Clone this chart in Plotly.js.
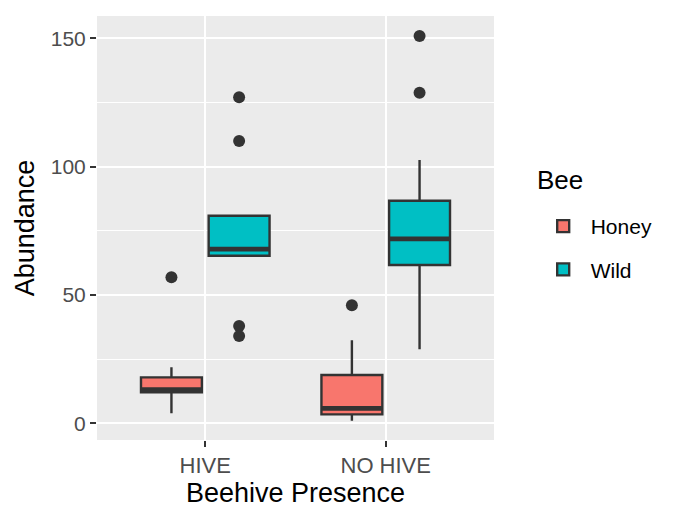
<!DOCTYPE html>
<html>
<head>
<meta charset="utf-8">
<script src="https://cdn.plot.ly/plotly-3.0.1.min.js"></script>
<style>html,body{margin:0;padding:0;background:#fff;}#chart{width:685px;height:521px;}</style>
</head>
<body>
<div id="chart"></div>
<script>
// ---- data ----
const categories = ["HIVE", "NO HIVE"];

const honeyQ1     = [12.1, 3.5];
const honeyMedian = [13.1, 5.8];
const honeyQ3     = [17.9, 18.8];
const honeyLower  = [3.9, 1.0];
const honeyUpper  = [21.8, 32.4];

const wildQ1      = [65.3, 61.7];
const wildMedian  = [67.9, 71.9];
const wildQ3      = [80.9, 86.7];
const wildLower   = [65.3, 28.9];
const wildUpper   = [80.9, 102.6];

const honeyOutX = ["HIVE", "NO HIVE"];
const honeyOutY = [56.9, 46.0];
const wildOutX  = ["HIVE", "HIVE", "HIVE", "HIVE", "NO HIVE", "NO HIVE"];
const wildOutY  = [127.0, 110.0, 37.9, 34.0, 150.9, 128.8];

const yTicks = [0, 50, 100, 150];
const legendTitle = "Bee";

// ---- styling ----
const FONT = "Liberation Sans, Arial, Helvetica, sans-serif";
const LINE = "#333333";
const HONEY = "#F8766D";
const WILD = "#00BFC4";

function boxTrace(name, q1, med, q3, lo, hi, color, legend) {
  return {
    type: "box", name: name, x: categories,
    q1: q1, median: med, q3: q3, lowerfence: lo, upperfence: hi,
    fillcolor: color, line: {color: LINE, width: 2.4}, whiskerwidth: 0,
    offsetgroup: name, alignmentgroup: "a", legendgroup: name,
    showlegend: legend, boxpoints: false, hoverinfo: "skip"
  };
}
function medianTrace(name, med) {
  return {
    type: "box", name: name + " median", x: categories,
    q1: med, median: med, q3: med, lowerfence: med, upperfence: med,
    fillcolor: "rgba(0,0,0,0)", line: {color: LINE, width: 4.8}, whiskerwidth: 0,
    offsetgroup: name, alignmentgroup: "a", legendgroup: name,
    showlegend: false, boxpoints: false, hoverinfo: "skip"
  };
}
function outTrace(name, xs, ys) {
  return {
    type: "scatter", mode: "markers", x: xs, y: ys,
    marker: {color: LINE, size: 12},
    offsetgroup: name, alignmentgroup: "a", legendgroup: name,
    showlegend: false, hoverinfo: "skip"
  };
}

const data = [
  boxTrace("Honey", honeyQ1, honeyMedian, honeyQ3, honeyLower, honeyUpper, HONEY, true),
  boxTrace("Wild", wildQ1, wildMedian, wildQ3, wildLower, wildUpper, WILD, true),
  medianTrace("Honey", honeyMedian),
  medianTrace("Wild", wildMedian),
  outTrace("Honey", honeyOutX, honeyOutY),
  outTrace("Wild", wildOutX, wildOutY)
];

const layout = {
  width: 685, height: 521,
  margin: {l: 97, r: 191, t: 16, b: 81},
  paper_bgcolor: "#FFFFFF",
  plot_bgcolor: "#EBEBEB",
  boxmode: "group", boxgap: 0.25, boxgroupgap: 0.1,
  scattermode: "group", scattergap: 0.25,
  font: {family: FONT, color: "#000000"},
  xaxis: {
    type: "category", categoryorder: "array", categoryarray: categories,
    range: [-0.6, 1.6], showgrid: true, gridcolor: "#FFFFFF", gridwidth: 2,
    zeroline: false, showline: false,
    ticks: "outside", ticklen: 6, tickwidth: 2, tickcolor: LINE,
    tickfont: {family: FONT, size: 22, color: "#4D4D4D"},
    title: {text: "Beehive Presence", font: {family: FONT, size: 27, color: "#000000"}, standoff: 4},
    automargin: false, fixedrange: true
  },
  yaxis: {
    range: [-6.5, 158.7], tickvals: yTicks, ticktext: yTicks.map(String),
    showgrid: true, gridcolor: "#FFFFFF", gridwidth: 2,
    minor: {dtick: 25, tick0: 0, showgrid: true, gridcolor: "#FFFFFF", gridwidth: 1, ticks: ""},
    zeroline: false, showline: false,
    ticks: "outside", ticklen: 6, tickwidth: 2, tickcolor: LINE,
    tickfont: {family: FONT, size: 21, color: "#4D4D4D"},
    title: {text: "Abundance", font: {family: FONT, size: 27, color: "#000000"}, standoff: 8},
    automargin: false, fixedrange: true
  },
  legend: {
    x: 1.105, xanchor: "left", y: 0.552, yanchor: "top",
    bgcolor: "rgba(0,0,0,0)", borderwidth: 0,
    font: {family: FONT, size: 21, color: "#000000"},
    itemwidth: 45, tracegroupgap: 13, traceorder: "grouped"
  },
  annotations: [{
    text: legendTitle, xref: "paper", yref: "paper",
    x: 1.104, y: 0.613, xanchor: "left", yanchor: "middle",
    showarrow: false, font: {family: FONT, size: 26, color: "#000000"}
  }],
  showlegend: true
};

Plotly.newPlot("chart", data, layout, {displayModeBar: false, staticPlot: true});
</script>
</body>
</html>
